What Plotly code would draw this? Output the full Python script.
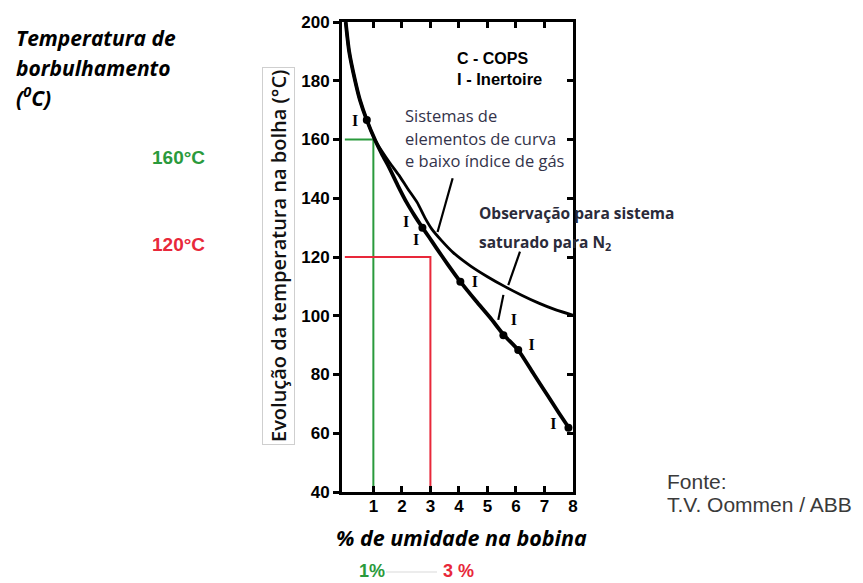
import plotly.graph_objects as go

# Observação para sistema saturado com N2 (curva superior)
sat_x = [0.03, 0.15, 0.36, 0.53, 0.77, 1.06, 1.3, 1.58, 1.9, 2.2, 2.54, 2.8, 3.05,
         3.4, 3.8, 4.4, 5.0, 5.6, 6.2, 6.8, 7.4, 8.0]
sat_y = [200, 190, 180, 173.4, 166.6, 159.8, 156, 152, 147.8, 143.3, 138.5, 133.5, 129.5,
         125.5, 121.5, 117, 113.3, 110, 107, 104.3, 102, 100.2]

# Sistemas de elementos de curva e baixo índice de gás (curva inferior)
low_x = [0.03, 0.15, 0.36, 0.53, 0.77, 1.06, 1.3, 1.55, 1.85, 2.17, 2.45, 2.7, 2.95,
         3.2, 3.6, 4.05, 4.6, 5.1, 5.56, 6.08, 6.6, 7.1, 7.5, 7.9]
low_y = [200, 190, 180, 173.4, 166.6, 159.8, 155, 150.5, 144.5, 138.5, 134, 130.3, 126.8,
         123.2, 117.6, 111.6, 105, 99.3, 93.6, 88.3, 80.5, 73, 67, 61.2]

# Pontos medidos e marcas "I" (Inertoire)
pts_x = [0.77, 2.72, 4.05, 5.56, 6.08, 7.84]
pts_y = [166.6, 130, 111.6, 93.4, 88.3, 61.9]
ins_x = [0.36, 2.15, 2.5, 4.56, 5.93, 6.55, 7.31]
ins_y = [166, 131.5, 125.5, 111, 98.3, 89.8, 62.8]

# Linhas indicadoras das notas (início, fim)
guia_x = [[3.78, 3.25], [6.14, 5.73], [5.56, 5.38]]
guia_y = [[146.8, 128.5], [121.8, 110.4], [107.1, 98.6]]

# Leituras destacadas
umid_verde, temp_verde = 1, 160
umid_verm, temp_verm = 3, 120

x_ticks = [1, 2, 3, 4, 5, 6, 7, 8]
y_ticks = [40, 60, 80, 100, 120, 140, 160, 180, 200]

GREEN = "#2a9a3c"
RED = "#e8283a"

fig = go.Figure()

# linhas de leitura
fig.add_trace(go.Scatter(x=[0, umid_verde, umid_verde], y=[temp_verde, temp_verde, 40],
                         mode="lines", line=dict(color=GREEN, width=2), hoverinfo="skip"))
fig.add_trace(go.Scatter(x=[0, umid_verm, umid_verm], y=[temp_verm, temp_verm, 40],
                         mode="lines", line=dict(color=RED, width=2), hoverinfo="skip"))

fig.add_trace(go.Scatter(x=sat_x, y=sat_y, mode="lines",
                         line=dict(color="black", width=2.8, shape="spline", smoothing=0.6)))
fig.add_trace(go.Scatter(x=low_x, y=low_y, mode="lines",
                         line=dict(color="black", width=3.8, shape="spline", smoothing=0.6)))
fig.add_trace(go.Scatter(x=pts_x, y=pts_y, mode="markers",
                         marker=dict(color="black", size=8)))
fig.add_trace(go.Scatter(x=ins_x, y=ins_y, mode="text", text=["I"] * len(ins_x),
                         textfont=dict(family="Liberation Serif", size=16, color="black",
                                       weight="bold")))
for gx, gy in zip(guia_x, guia_y):
    fig.add_trace(go.Scatter(x=gx, y=gy, mode="lines",
                             line=dict(color="black", width=2.2), hoverinfo="skip"))

# eixos espelhados (topo e direita)
fig.add_trace(go.Scatter(x=[0], y=[40], xaxis="x2", yaxis="y2", mode="markers",
                         marker=dict(opacity=0), hoverinfo="skip"))

tick_font = dict(family="Liberation Sans", size=17, color="black", weight="bold")
fig.update_layout(
    width=863, height=583, autosize=False,
    margin=dict(l=342, r=290, t=22, b=91),
    paper_bgcolor="white", plot_bgcolor="white",
    showlegend=False,
    xaxis=dict(range=[-0.1, 8], tickvals=x_ticks, ticktext=[str(v) for v in x_ticks],
               ticks="inside", ticklen=6, tickwidth=2.5, tickcolor="black",
               showline=True, linewidth=3, linecolor="black", showgrid=False,
               zeroline=False, tickfont=tick_font, ticklabelstandoff=-3),
    yaxis=dict(range=[40, 200], tickvals=y_ticks, ticks="outside", ticklen=6,
               tickwidth=2.5, tickcolor="black", showline=True, linewidth=3,
               linecolor="black", showgrid=False, zeroline=False, tickfont=tick_font),
    xaxis2=dict(range=[-0.1, 8], overlaying="x", side="top", anchor="y2",
                tickvals=[1, 2, 3, 4, 5, 6, 7], ticks="inside", ticklen=6, tickwidth=2.5,
                tickcolor="black", showticklabels=False, showline=True, linewidth=3,
                linecolor="black", showgrid=False, zeroline=False),
    yaxis2=dict(range=[40, 200], overlaying="y", side="right", anchor="x2",
                tickvals=[60, 80, 100, 120, 140, 160, 180], ticks="inside", ticklen=6,
                tickwidth=2.5, tickcolor="black", showticklabels=False, showline=True,
                linewidth=3, linecolor="black", showgrid=False, zeroline=False),
)

L, R, T, B = 342, 573, 22, 492


def fx(p):
    return (p - L) / (R - L)


def fy(p):
    return (B - p) / (B - T)


def label(text, x, y, size, color="black", family="Open Sans", xanchor="left",
          weight="normal", style="normal", **kw):
    fig.add_annotation(text=text, xref="paper", yref="paper", x=fx(x), y=fy(y),
                       xanchor=xanchor, yanchor="middle", showarrow=False,
                       font=dict(family=family, size=size, color=color, weight=weight,
                                 style=style), **kw)


# título do eixo vertical
label("Evolução da temperatura na bolha (°C)", 278, 256, 20, color="#111111",
      xanchor="center", textangle=-90, bordercolor="#cfcfcf", borderwidth=1,
      borderpad=2, bgcolor="white", weight=600)

# texto lateral
for txt, yy in [("Temperatura de", 38), ("borbulhamento", 68), ("(<sup>0</sup>C)", 97)]:
    label(txt, 14, yy, 21, weight="bold", style="italic")
label("160°C", 178, 157, 19, color=GREEN, family="Liberation Sans", xanchor="center",
      weight="bold")
label("120°C", 178, 245, 19, color=RED, family="Liberation Sans", xanchor="center",
      weight="bold")

# legenda interna
label("C - COPS", 455, 58, 16, family="Liberation Sans", weight="bold")
label("I - Inertoire", 455, 79, 16.5, family="Liberation Sans", weight="bold")

# notas sobre as curvas
for txt, yy in [("Sistemas de", 115), ("elementos de curva", 138),
                ("e baixo índice de gás", 160)]:
    label(txt, 403, yy, 16.5, color="#33334a")
label("Observação para sistema", 477, 213, 15.5, color="#2b2b3a", weight="bold")
label("saturado para N<sub>2</sub>", 477, 242, 15.5, color="#2b2b3a", weight="bold")

# eixo horizontal e leituras
label("% de umidade na bobina", 461, 537, 21.5, weight="bold", style="italic",
      xanchor="center")
label("1%", 357, 571, 18, color=GREEN, family="Liberation Sans", weight="bold")
label("3 %", 441, 571, 18, color=RED, family="Liberation Sans", weight="bold")
fig.add_shape(type="line", xref="paper", yref="paper", x0=fx(386), x1=fx(437),
              y0=fy(572), y1=fy(572), line=dict(color="#e6e6e6", width=1.5))

# fonte
label("Fonte:", 665, 481, 21, color="#3a3a3a", family="Liberation Sans")
label("T.V. Oommen / ABB", 665, 504, 21, color="#3a3a3a", family="Liberation Sans")

fig.write_html("out.html")
